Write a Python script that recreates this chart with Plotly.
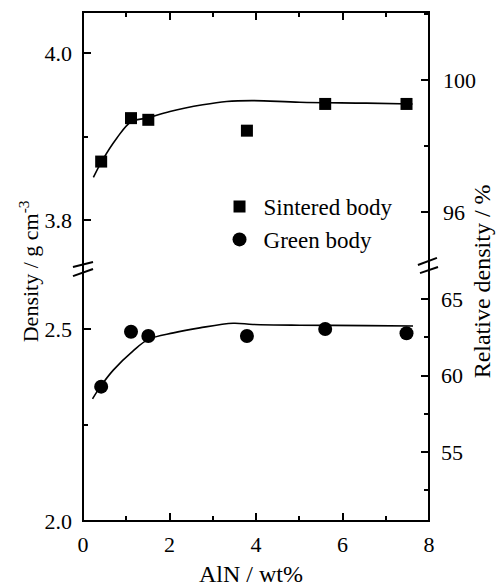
import plotly.graph_objects as go

# ---- data ----
aln_wt = [0.42, 1.11, 1.51, 3.79, 5.60, 7.48]
sintered_density = [3.870, 3.922, 3.920, 3.907, 3.939, 3.939]
green_density = [2.350, 2.493, 2.482, 2.482, 2.500, 2.489]

sint_curve_x = [0.24, 0.43, 0.78, 1.12, 1.47, 2.01, 2.77, 3.32, 3.93, 5.01, 6.55, 7.62]
sint_curve_y = [3.851, 3.870, 3.898, 3.918, 3.922, 3.930, 3.938, 3.942, 3.943, 3.941, 3.940, 3.939]

green_curve_x = [0.22, 0.39, 0.70, 1.16, 1.51, 2.09, 2.70, 3.47, 3.93, 5.01, 6.55, 7.63]
green_curve_y = [2.318, 2.348, 2.393, 2.443, 2.473, 2.490, 2.503, 2.515, 2.512, 2.510, 2.509, 2.508]

x_ticks = [0, 2, 4, 6, 8]
upper_left_ticks = [3.8, 4.0]
lower_left_ticks = [2.0, 2.5]
upper_right_ticks = [96, 100]
lower_right_ticks = [55, 60, 65]

FONT = "Liberation Serif"
f = 0.495  # split of vertical domain (break position)

fig = go.Figure()

# curves
fig.add_trace(go.Scatter(x=sint_curve_x, y=sint_curve_y, mode="lines", line=dict(color="black", width=1.6, shape="spline"),
                         xaxis="x", yaxis="y2", showlegend=False, hoverinfo="skip"))
fig.add_trace(go.Scatter(x=green_curve_x, y=green_curve_y, mode="lines", line=dict(color="black", width=1.6, shape="spline"),
                         xaxis="x", yaxis="y", showlegend=False, hoverinfo="skip"))
# markers
fig.add_trace(go.Scatter(x=aln_wt, y=sintered_density, mode="markers", name="Sintered body",
                         marker=dict(symbol="square", size=12, color="black"), xaxis="x", yaxis="y2"))
fig.add_trace(go.Scatter(x=aln_wt, y=green_density, mode="markers", name="Green body",
                         marker=dict(symbol="circle", size=14, color="black"), xaxis="x", yaxis="y"))
# invisible helpers so the secondary axes are drawn
fig.add_trace(go.Scatter(x=[None], y=[None], xaxis="x2", yaxis="y4", showlegend=False, hoverinfo="skip"))
fig.add_trace(go.Scatter(x=[None], y=[None], xaxis="x", yaxis="y3", showlegend=False, hoverinfo="skip"))

tickfont = dict(family=FONT, size=22, color="black")
common = dict(ticks="inside", tickcolor="black", tickwidth=2, showgrid=False, zeroline=False,
              showline=False, tickfont=tickfont)
minor_style = dict(ticks="inside", ticklen=5, tickwidth=2, tickcolor="black")

fig.update_layout(
    width=496, height=586,
    margin=dict(l=83, r=67, t=12, b=65),
    paper_bgcolor="white", plot_bgcolor="white",
    xaxis=dict(domain=[0, 1], anchor="y", range=[0, 8], tickvals=x_ticks, ticklen=8, ticklabelstandoff=8,
               minor=dict(dtick=1, **minor_style), **common),
    xaxis2=dict(domain=[0, 1], anchor="y2", overlaying="x", side="top", range=[0, 8], tickvals=x_ticks, ticklen=8,
                showticklabels=False, minor=dict(dtick=1, **minor_style), **common),
    yaxis=dict(domain=[0, f], anchor="x", range=[2.0, 2.65625], tickvals=lower_left_ticks, tickformat=".1f",
               ticklen=8, ticklabelstandoff=10, minor=dict(dtick=0.25, **minor_style), **common),
    yaxis2=dict(domain=[f, 1], anchor="x", range=[3.7413, 4.0491], tickvals=upper_left_ticks, tickformat=".1f",
                ticklen=8, ticklabelstandoff=10, minor=dict(tick0=3.8, dtick=0.1, **minor_style), **common),
    yaxis3=dict(domain=[0, f], anchor="x", overlaying="y", side="right", range=[50.49, 66.96],
                tickvals=lower_right_ticks, ticklen=8, ticklabelstandoff=11,
                minor=dict(tick0=52.5, dtick=5, **minor_style), **common),
    yaxis4=dict(domain=[f, 1], anchor="x", overlaying="y2", side="right", range=[94.27, 102.06],
                tickvals=upper_right_ticks, ticklen=8, ticklabelstandoff=13,
                minor=dict(tick0=94, dtick=2, **minor_style), **common),
    legend=dict(x=0.383, y=0.66, xanchor="left", yanchor="top", bgcolor="rgba(0,0,0,0)",
                font=dict(family=FONT, size=23, color="black"), itemwidth=38, tracegroupgap=0),
    showlegend=True,
)

# frame
fig.add_shape(type="rect", xref="paper", yref="paper", x0=0, y0=0, x1=1, y1=1,
              line=dict(color="black", width=2), layer="above")
# break marks
for (x0, y0, x1, y1) in [(-0.029, 0.499, 0.029, 0.509), (-0.029, 0.481, 0.029, 0.495),
                         (0.968, 0.503, 1.023, 0.517), (0.974, 0.487, 1.026, 0.499)]:
    fig.add_shape(type="line", xref="paper", yref="paper", x0=x0, y0=y0, x1=x1, y1=y1,
                  line=dict(color="black", width=2))

fig.add_annotation(text="AlN / wt%", xref="paper", yref="paper", x=0.486, y=-0.104,
                   xanchor="center", yanchor="middle", showarrow=False,
                   font=dict(family=FONT, size=24, color="black"))
fig.add_annotation(text="Density / g cm<sup>-3</sup>", xref="paper", yref="paper", x=-0.157, y=0.49,
                   xanchor="center", yanchor="middle", textangle=-90, showarrow=False,
                   font=dict(family=FONT, size=22, color="black"))
fig.add_annotation(text="Relative density / %", xref="paper", yref="paper", x=1.152, y=0.47,
                   xanchor="center", yanchor="middle", textangle=-90, showarrow=False,
                   font=dict(family=FONT, size=24, color="black"))

fig.write_html("out.html")
